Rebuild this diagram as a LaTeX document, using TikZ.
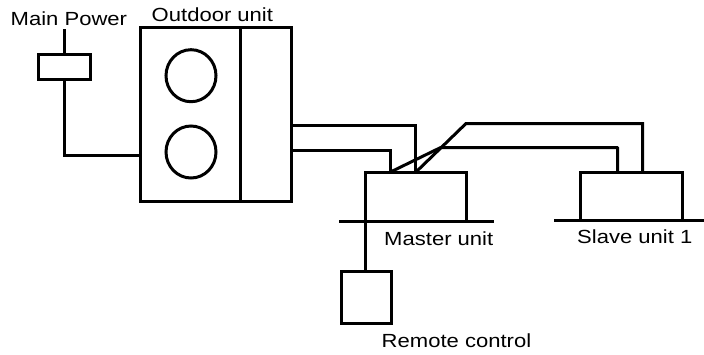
\documentclass[tikz,border=0pt]{standalone}
\usepackage{fontspec}
\setmainfont{Liberation Sans}
\begin{document}
\begin{tikzpicture}[x=1pt,y=-1pt,line width=3pt,
  lbl/.style={inner sep=0pt,font=\fontsize{19}{21}\selectfont,anchor=base west,xscale=1.16},
  boxn/.style={draw,inner sep=0pt,outer sep=0pt}]
\useasboundingbox (0,0) rectangle (704,354);
\node[lbl] (lmain) at (9,25) {Main Power};
\node[lbl] (lout) at (150,21.5) {Outdoor unit};
\node[lbl] (lmaster) at (382.5,245) {Master unit};
\node[lbl] (lslave) at (575.5,243.5) {Slave unit 1};
\node[lbl] (lrem) at (380,347) {Remote control};
% fuse
\node[boxn,minimum width=52pt,minimum height=25pt] (fuse) at (64.5,67) {};
% outdoor
\node[boxn,minimum width=151pt,minimum height=174pt] (out) at (216,114.5) {};
\draw (240.5,27.5) -- (240.5,201.5);
\draw (191,75.7) ellipse (25 and 26);
\draw (191,152) ellipse (25 and 26);
% master, slave, remote
\node[boxn,minimum width=101pt,minimum height=49pt] (master) at (416,197) {};
\node[boxn,minimum width=102pt,minimum height=48pt] (slave) at (631.5,196.5) {};
\node[boxn,minimum width=50pt,minimum height=52pt] (remote) at (366.5,297.5) {};
\coordinate (gm1) at (339,221.5);
\coordinate (gm2) at (494,221.5);
\coordinate (gs1) at (554,220.5);
\coordinate (gs2) at (704,220.5);
\draw (gm1) -- (gm2);
\draw (gs1) -- (gs2);
% wires
\coordinate (ptop) at (64.5,29);
\draw (ptop) -- (fuse.north);
\draw (fuse.south) |- (out.west |- 0,155.5);
\draw (out.east |- 0,125.5) -| (415.5,172.5);
\draw (out.east |- 0,150.5) -| (390.5,172.5);
\draw[line join=bevel] (390.5,172) -- (440.7,147.5) -- (617.5,147.5) -- (617.5,172.5);
\draw[line join=miter] (416,172) -- (466,123.5) -- (642.5,123.5) -- (642.5,172.5);
\draw (365.5,221.5) -- (365.5,271.5);
\end{tikzpicture}
\end{document}
